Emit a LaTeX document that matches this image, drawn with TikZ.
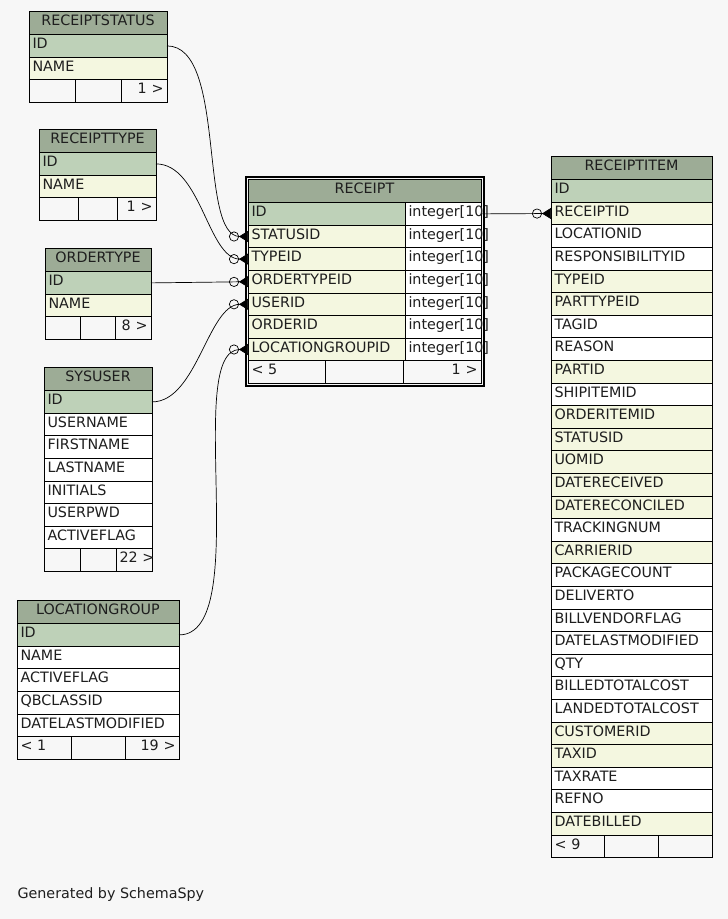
\documentclass[tikz,border=0pt]{standalone}
\usepackage{fontspec}
\setmainfont{DejaVu Sans}
\usetikzlibrary{arrows.meta,calc}
\definecolor{bggray}{RGB}{247,247,247}
\definecolor{hdrfill}{RGB}{157,172,150}
\definecolor{pkfill}{RGB}{190,209,184}
\definecolor{fkfill}{RGB}{244,247,224}
\definecolor{inkgray}{RGB}{30,30,30}
\hyphenpenalty=10000
\tikzset{
  cell/.style={draw=black,line width=0.8pt,anchor=north west,outer sep=0pt,minimum height=22.6pt,inner xsep=3.5pt,inner ysep=0pt,text height=10.5pt,text depth=5pt,align=left,text=inkgray},
  hdr/.style={cell,fill=hdrfill,minimum height=23.6pt,align=center},
  foot/.style={cell},
  link/.style={line width=0.7pt,-{Circle[open,length=10pt,width=10pt] Triangle[reversed,length=9pt,width=11pt]}}
}
% one table: prefix, x, y, width, title, rows, footer left, footer right
\newcommand{\ertable}[8]{%
  \pgfmathsetmacro\tw{#4-7}%
  \pgfmathsetmacro\cw{#4/3}%
  \pgfmathsetmacro\ctw{#4/3-7}%
  \node[hdr,minimum width=#4pt,text width=\tw pt] (#1-0) at (#2,#3) {#5};
  \foreach \fld/\shade [count=\i] in {#6}{
    \node[cell,fill=\shade,minimum width=#4pt,text width=\tw pt] (#1-\i) at (#2,{#3+1+\i*22.6}) {\fld};
    \xdef\lastrow{\i}
  }
  \node[foot,minimum width=\cw pt,text width=\ctw pt] (#1-fa) at (#2,{#3+1+(\lastrow+1)*22.6}) {#7};
  \node[foot,minimum width=\cw pt,text width=\ctw pt] (#1-fb) at (#1-fa.north east) {};
  \node[foot,minimum width=\cw pt,text width=\ctw pt] (#1-fc) at (#1-fb.north east)
    {\hbox to\linewidth{\hskip 0pt plus 1fill #8\hskip 0pt minus 1fil}};
}

\begin{document}
\begin{tikzpicture}[x=1pt,y=-1pt,font=\fontsize{14.3}{16}\selectfont]
  \path[use as bounding box,fill=bggray] (0,0) rectangle (728,919);

  % small lookup tables
  \ertable{rs}{29}{11}{138}{RECEIPTSTATUS}{ID/pkfill,NAME/fkfill}{}{1 >}
  \ertable{rt}{39}{129}{117}{RECEIPTTYPE}{ID/pkfill,NAME/fkfill}{}{1 >}
  \ertable{ot}{45}{248}{106}{ORDERTYPE}{ID/pkfill,NAME/fkfill}{}{8 >}
  \ertable{su}{44}{367}{108}{SYSUSER}{ID/pkfill,USERNAME/white,FIRSTNAME/white,LASTNAME/white,INITIALS/white,USERPWD/white,ACTIVEFLAG/white}{}{22 >}
  \ertable{lg}{17}{600}{162}{LOCATIONGROUP}{ID/pkfill,NAME/white,ACTIVEFLAG/white,QBCLASSID/white,DATELASTMODIFIED/white}{< 1}{19 >}
  \ertable{ri}{551}{156}{161}{RECEIPTITEM}{ID/pkfill,RECEIPTID/fkfill,LOCATIONID/white,RESPONSIBILITYID/white,TYPEID/fkfill,PARTTYPEID/fkfill,TAGID/white,REASON/white,PARTID/fkfill,SHIPITEMID/white,ORDERITEMID/fkfill,STATUSID/fkfill,UOMID/fkfill,DATERECEIVED/fkfill,DATERECONCILED/fkfill,TRACKINGNUM/white,CARRIERID/fkfill,PACKAGECOUNT/white,DELIVERTO/white,BILLVENDORFLAG/white,DATELASTMODIFIED/white,QTY/white,BILLEDTOTALCOST/white,LANDEDTOTALCOST/white,CUSTOMERID/fkfill,TAXID/fkfill,TAXRATE/white,REFNO/white,DATEBILLED/fkfill}{< 9}{}

  % the focused table
  \node[hdr,minimum width=233pt,text width=226pt] (rc-0) at (248,179) {RECEIPT};
  \foreach \fld/\shade [count=\i] in {ID/pkfill,STATUSID/fkfill,TYPEID/fkfill,ORDERTYPEID/fkfill,USERID/fkfill,ORDERID/fkfill,LOCATIONGROUPID/fkfill}{
    \node[cell,fill=\shade,minimum width=157pt,text width=150pt] (rc-\i) at (248,{180+\i*22.6}) {\fld};
    \node[cell,fill=white,minimum width=76pt,text width=69pt] (rc-t\i) at (rc-\i.north east) {integer[10]};
  }
  \node[foot,minimum width=77.67pt,text width=70.67pt] (rc-fa) at (248,360.8) {< 5};
  \node[foot,minimum width=77.67pt,text width=70.67pt] (rc-fb) at (rc-fa.north east) {};
  \node[foot,minimum width=77.67pt,text width=70.67pt,align=right] (rc-fc) at (rc-fb.north east) {1 >};
  \draw[line width=2pt] ($(rc-0.north west)+(-2.5,-2.5)$) rectangle ($(rc-fc.south east)+(2.5,2.5)$);

  % relations
  \draw[link] (rs-1.east) .. controls +(60,0) and +(-50,0) .. (rc-2.west);
  \draw[link] (rt-1.east) .. controls +(45,0) and +(-40,0) .. (rc-3.west);
  \draw[link] (ot-1.east) -- (rc-4.west);
  \draw[link] (su-1.east) .. controls +(45,0) and +(-40,0) .. (rc-5.west);
  \draw[link] (lg-1.east) .. controls +(75,0) and +(-65,0) .. (rc-7.west);
  \draw[link] (rc-t1.east) -- (ri-2.west);

  \node[anchor=west,text=inkgray] (gen) at (14,895) {Generated by SchemaSpy};
\end{tikzpicture}
\end{document}
